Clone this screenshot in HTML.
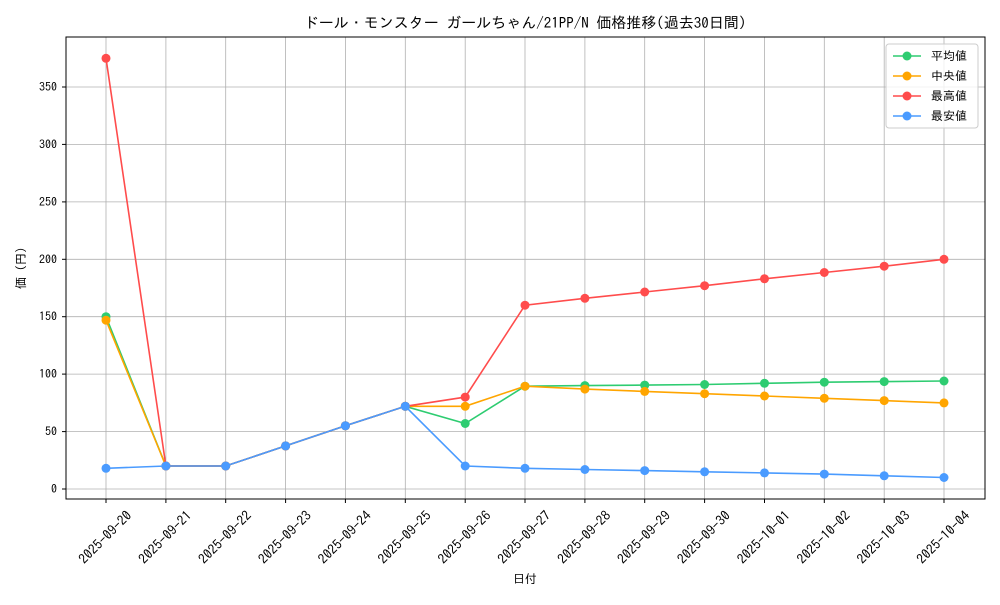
<!DOCTYPE html>
<html><head><meta charset="utf-8"><style>
body{margin:0;background:#fff}
svg text{font-family:"IPAGothic","Noto Sans CJK JP",sans-serif;fill:#000}
</style></head><body>
<svg width="1000" height="600" viewBox="0 0 1000 600" xmlns="http://www.w3.org/2000/svg">
<rect width="1000" height="600" fill="#fff"/>
<text x="525" y="28" font-size="15" text-anchor="middle">ドール・モンスター ガールちゃん/21PP/N 価格推移(過去30日間)</text>
<g stroke="#b0b0b0" stroke-width="0.8">
<line x1="66" x2="985" y1="489" y2="489"/><line x1="66" x2="985" y1="431.6" y2="431.6"/><line x1="66" x2="985" y1="374.1" y2="374.1"/><line x1="66" x2="985" y1="316.7" y2="316.7"/><line x1="66" x2="985" y1="259.3" y2="259.3"/><line x1="66" x2="985" y1="201.9" y2="201.9"/><line x1="66" x2="985" y1="144.4" y2="144.4"/><line x1="66" x2="985" y1="87" y2="87"/>
<line y1="37" y2="499" x1="106" x2="106"/><line y1="37" y2="499" x1="165.9" x2="165.9"/><line y1="37" y2="499" x1="225.7" x2="225.7"/><line y1="37" y2="499" x1="285.6" x2="285.6"/><line y1="37" y2="499" x1="345.4" x2="345.4"/><line y1="37" y2="499" x1="405.3" x2="405.3"/><line y1="37" y2="499" x1="465.2" x2="465.2"/><line y1="37" y2="499" x1="525" x2="525"/><line y1="37" y2="499" x1="584.9" x2="584.9"/><line y1="37" y2="499" x1="644.7" x2="644.7"/><line y1="37" y2="499" x1="704.6" x2="704.6"/><line y1="37" y2="499" x1="764.5" x2="764.5"/><line y1="37" y2="499" x1="824.3" x2="824.3"/><line y1="37" y2="499" x1="884.2" x2="884.2"/><line y1="37" y2="499" x1="944" x2="944"/>
</g>
<rect x="66" y="37" width="919" height="462" fill="none" stroke="#000" stroke-width="1"/>
<g font-size="12" text-anchor="end">
<text x="57" y="493">0</text><text x="57" y="435.6">50</text><text x="57" y="378.1">100</text><text x="57" y="320.7">150</text><text x="57" y="263.3">200</text><text x="57" y="205.9">250</text><text x="57" y="148.4">300</text><text x="57" y="91">350</text>
</g>
<g stroke="#000"><line x1="62" x2="66" y1="489" y2="489"/><line x1="62" x2="66" y1="431.6" y2="431.6"/><line x1="62" x2="66" y1="374.1" y2="374.1"/><line x1="62" x2="66" y1="316.7" y2="316.7"/><line x1="62" x2="66" y1="259.3" y2="259.3"/><line x1="62" x2="66" y1="201.9" y2="201.9"/><line x1="62" x2="66" y1="144.4" y2="144.4"/><line x1="62" x2="66" y1="87" y2="87"/>
<line y1="499" y2="503" x1="106" x2="106"/><line y1="499" y2="503" x1="165.9" x2="165.9"/><line y1="499" y2="503" x1="225.7" x2="225.7"/><line y1="499" y2="503" x1="285.6" x2="285.6"/><line y1="499" y2="503" x1="345.4" x2="345.4"/><line y1="499" y2="503" x1="405.3" x2="405.3"/><line y1="499" y2="503" x1="465.2" x2="465.2"/><line y1="499" y2="503" x1="525" x2="525"/><line y1="499" y2="503" x1="584.9" x2="584.9"/><line y1="499" y2="503" x1="644.7" x2="644.7"/><line y1="499" y2="503" x1="704.6" x2="704.6"/><line y1="499" y2="503" x1="764.5" x2="764.5"/><line y1="499" y2="503" x1="824.3" x2="824.3"/><line y1="499" y2="503" x1="884.2" x2="884.2"/><line y1="499" y2="503" x1="944" x2="944"/></g>
<text x="25" y="268" font-size="12" text-anchor="middle" transform="rotate(-90 25 268)">価 (円)</text>
<text x="525" y="583" font-size="12" text-anchor="middle">日付</text>
<g font-size="13.5" text-anchor="middle">
<text transform="translate(105,537) rotate(-45)" y="5" textLength="68">2025-09-20</text>
<text transform="translate(164.9,537) rotate(-45)" y="5" textLength="68">2025-09-21</text>
<text transform="translate(224.7,537) rotate(-45)" y="5" textLength="68">2025-09-22</text>
<text transform="translate(284.6,537) rotate(-45)" y="5" textLength="68">2025-09-23</text>
<text transform="translate(344.4,537) rotate(-45)" y="5" textLength="68">2025-09-24</text>
<text transform="translate(404.3,537) rotate(-45)" y="5" textLength="68">2025-09-25</text>
<text transform="translate(464.2,537) rotate(-45)" y="5" textLength="68">2025-09-26</text>
<text transform="translate(524,537) rotate(-45)" y="5" textLength="68">2025-09-27</text>
<text transform="translate(583.9,537) rotate(-45)" y="5" textLength="68">2025-09-28</text>
<text transform="translate(643.7,537) rotate(-45)" y="5" textLength="68">2025-09-29</text>
<text transform="translate(703.6,537) rotate(-45)" y="5" textLength="68">2025-09-30</text>
<text transform="translate(763.5,537) rotate(-45)" y="5" textLength="68">2025-10-01</text>
<text transform="translate(823.3,537) rotate(-45)" y="5" textLength="68">2025-10-02</text>
<text transform="translate(883.2,537) rotate(-45)" y="5" textLength="68">2025-10-03</text>
<text transform="translate(943,537) rotate(-45)" y="5" textLength="68">2025-10-04</text>
</g>
<defs>
<marker id="mg" markerWidth="10" markerHeight="10" refX="5" refY="5" markerUnits="userSpaceOnUse"><circle cx="5" cy="5" r="4.5" fill="#2ecc71"/></marker>
<marker id="mo" markerWidth="10" markerHeight="10" refX="5" refY="5" markerUnits="userSpaceOnUse"><circle cx="5" cy="5" r="4.5" fill="#ffa500"/></marker>
<marker id="mr" markerWidth="10" markerHeight="10" refX="5" refY="5" markerUnits="userSpaceOnUse"><circle cx="5" cy="5" r="4.5" fill="#ff4c4c"/></marker>
<marker id="mb" markerWidth="10" markerHeight="10" refX="5" refY="5" markerUnits="userSpaceOnUse"><circle cx="5" cy="5" r="4.5" fill="#4a9bff"/></marker>
</defs>
<g fill="none" stroke-width="1.6">
<polyline stroke="#2ecc71" marker-start="url(#mg)" marker-mid="url(#mg)" marker-end="url(#mg)" points="106,316.7 165.9,466 225.7,466 285.6,445.9 345.4,425.8 405.3,406.3 465.2,423.5 525,386.2 584.9,385.6 644.7,385.1 704.6,384.5 764.5,383.3 824.3,382.2 884.2,381.6 944,381"/>
<polyline stroke="#ffa500" marker-start="url(#mo)" marker-mid="url(#mo)" marker-end="url(#mo)" points="106,320.2 165.9,466 225.7,466 285.6,445.9 345.4,425.8 405.3,406.3 465.2,406.3 525,386.2 584.9,389.1 644.7,391.4 704.6,393.7 764.5,396 824.3,398.3 884.2,400.6 944,402.9"/>
<polyline stroke="#ff4c4c" marker-start="url(#mr)" marker-mid="url(#mr)" marker-end="url(#mr)" points="106,58.3 165.9,466 225.7,466 285.6,445.9 345.4,425.8 405.3,406.3 465.2,397.1 525,305.2 584.9,298.3 644.7,292 704.6,285.7 764.5,278.8 824.3,272.5 884.2,266.2 944,259.3"/>
<polyline stroke="#4a9bff" marker-start="url(#mb)" marker-mid="url(#mb)" marker-end="url(#mb)" points="106,468.3 165.9,466 225.7,466 285.6,445.9 345.4,425.8 405.3,406.3 465.2,466 525,468.3 584.9,469.5 644.7,470.6 704.6,471.8 764.5,472.9 824.3,474.1 884.2,475.8 944,477.5"/>
</g>
<rect x="886" y="44" width="92" height="84" rx="3" fill="#fff" fill-opacity="0.8" stroke="#ccc"/>
<g stroke-width="1.6">
<line x1="893" x2="921" y1="56" y2="56" stroke="#2ecc71"/><circle cx="907" cy="56" r="4.5" fill="#2ecc71"/>
<line x1="893" x2="921" y1="76" y2="76" stroke="#ffa500"/><circle cx="907" cy="76" r="4.5" fill="#ffa500"/>
<line x1="893" x2="921" y1="96" y2="96" stroke="#ff4c4c"/><circle cx="907" cy="96" r="4.5" fill="#ff4c4c"/>
<line x1="893" x2="921" y1="116" y2="116" stroke="#4a9bff"/><circle cx="907" cy="116" r="4.5" fill="#4a9bff"/>
</g>
<g font-size="12">
<text x="931" y="60">平均値</text><text x="931" y="80"> 中央値</text><text x="931" y="100">最高値</text><text x="931" y="120">最安値</text>
</g>
</svg>
</body></html>
